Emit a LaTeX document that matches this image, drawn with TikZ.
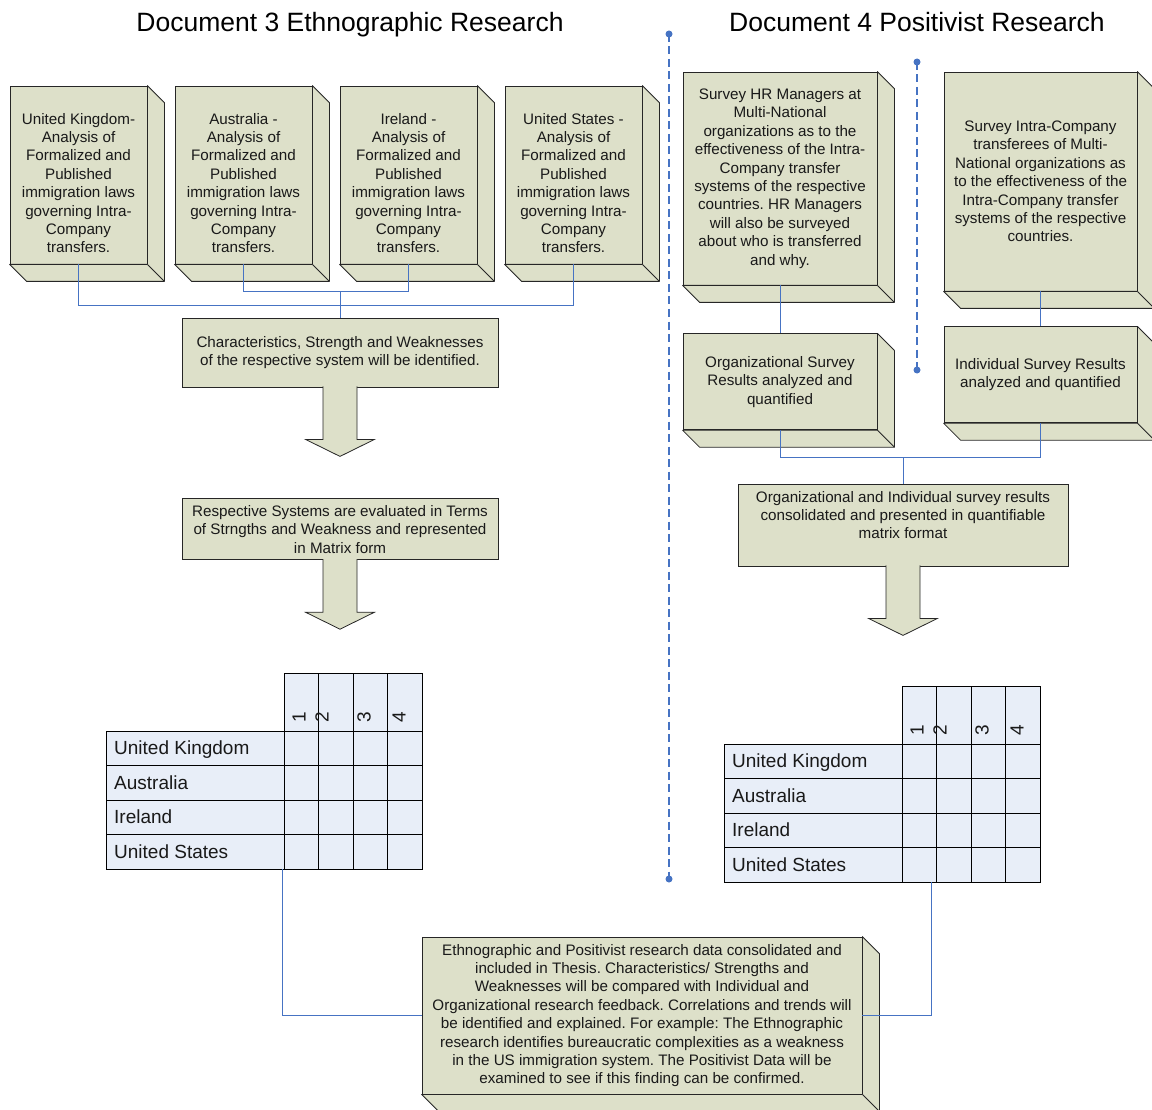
\documentclass[tikz,border=0pt]{standalone}
\usepackage{fontspec}
\setmainfont{Liberation Sans}
\usetikzlibrary{positioning, calc}
\frenchspacing

\definecolor{boxfill}{RGB}{221,224,201}
\definecolor{cellfill}{RGB}{232,238,248}
\definecolor{connblue}{RGB}{70,115,195}
\definecolor{inkgray}{RGB}{25,25,25}

\tikzset{
  face/.style={draw=black!85, fill=boxfill, line width=0.8pt, align=center, text=inkgray, font=\fontsize{15.2}{18.4}\selectfont, inner sep=0pt},
  boxtext/.style={align=center, text=inkgray, font=\fontsize{15.2}{18.4}\selectfont, inner sep=0pt},
  side/.style={draw=black!85, fill=boxfill, line width=0.8pt, line join=round},
  conn/.style={draw=connblue, line width=0.8pt},
  divider/.style={draw=connblue, line width=1.3pt, dash pattern=on 8pt off 4.5pt},
  blockarrow/.style={draw=black!85, fill=boxfill, line width=0.8pt, line join=miter},
  cell/.style={draw=black, fill=cellfill, line width=0.8pt},
  heading/.style={font=\fontsize{26.5}{31}\selectfont, text=black, anchor=base},
  country/.style={font=\fontsize{19}{22}\selectfont, text=inkgray, inner sep=0pt},
}

\begin{document}
\begin{tikzpicture}[x=1pt, y=-1pt]
  \useasboundingbox (0,0) rectangle (1152,1110);

  % headings
  \node[heading] (doc3) at (350,32) {Document 3 Ethnographic Research};
  \node[heading] (doc4) at (917,32) {Document 4 Positivist Research};

  % Document 3: one box per country
  \foreach \n/\c [count=\i from 0] in {uk/United Kingdom-, au/Australia -, ie/Ireland -, us/United States -} {
    \node[face, minimum width=137, minimum height=178] (\n) at (78.5+165*\i,175) {};
    \node[boxtext] at (78.5+165*\i,183) {\c\\Analysis of\\Formalized and\\Published\\immigration laws\\governing Intra-\\Company\\transfers.};
  }
  \node[face, minimum width=316, minimum height=69] (char) at (340,352.5) {Characteristics, Strength and Weaknesses\\of the respective system will be identified.};
  \node[face, minimum width=316, minimum height=61, below=111pt of char] (resp) {Respective Systems are evaluated in Terms\\of Strngths and Weakness and represented\\in Matrix form};

  % Document 4
  \node[face, minimum width=194, minimum height=213] (hr) at (780,178.5) {Survey HR Managers at\\Multi-National\\organizations as to the\\effectiveness of the Intra-\\Company transfer\\systems of the respective\\countries. HR Managers\\will also be surveyed\\about who is transferred\\and why.};
  \node[face, minimum width=194, minimum height=96, below=48pt of hr] (org) {Organizational Survey\\Results analyzed and\\quantified};
  \node[face, minimum width=193, minimum height=219] (intra) at (1040.5,181.5) {Survey Intra-Company\\transferees of  Multi-\\National organizations as\\to the effectiveness of the\\Intra-Company transfer\\systems of the respective\\countries.};
  \node[face, minimum width=193, minimum height=96, below=35pt of intra] (indiv) {Individual  Survey Results\\analyzed and quantified};
  \node[face, minimum width=330, minimum height=82] (cons) at (903,525) {};
  \node[boxtext] at ($(cons)+(0,-10)$) {Organizational and Individual survey results\\consolidated and presented in quantifiable\\matrix format};

  % thesis box
  \node[face, minimum width=440, minimum height=157] (final) at (642,1015.5) {Ethnographic and Positivist research data consolidated and\\included in Thesis. Characteristics/ Strengths and\\Weaknesses will be compared with Individual and\\Organizational research feedback. Correlations and trends will\\be identified and explained. For example: The Ethnographic\\research identifies bureaucratic complexities as a weakness\\in the US immigration system. The Positivist Data will be\\examined to see if this finding can be  confirmed.};

  % 3D sides
  \foreach \n in {uk,au,ie,us,hr,org,intra,indiv,final} {
    \filldraw[side] (\n.north east) -- ++(17,17) -- ($(\n.south east)+(17,17)$) -- ($(\n.south west)+(17,17)$) -- (\n.south west) -- (\n.south east) -- cycle;
    \draw[side] (\n.south east) -- ++(17,17);
  }

  % block arrows
  \foreach \n in {char,resp,cons}
    \draw[blockarrow] ($(\n.south)+(-17,-1)$) -- ++(0,53) -- ++(-17.5,0) -- ++(34.5,17) -- ++(34.5,-17) -- ++(-17.5,0) -- ++(0,-53);

  % matrices
  \foreach \mx/\my/\m/\cx in {106/673/lm/176, 724/686/rm/207} {
    \begin{scope}[shift={(\mx,\my)}]
      \foreach \i in {0,...,3}
        \draw[cell] (178+34.5*\i,0) rectangle ++(34.5,58);
      \foreach \d/\dx in {1/15, 2/38, 3/80, 4/115}
        \node[country, rotate=90, anchor=west] at (178+\dx,50) {\d};
      \foreach \c [count=\r from 0] in {United Kingdom, Australia, Ireland, United States} {
        \draw[cell] (0,58+34.5*\r) rectangle ++(178,34.5);
        \node[country, anchor=base west] at (8,58+34.5*\r+23.5) {\c};
        \foreach \i in {0,...,3}
          \draw[cell] (178+34.5*\i,58+34.5*\r) rectangle ++(34.5,34.5);
      }
      \coordinate (\m-bottom) at (\cx,196);
    \end{scope}
  }

  % connectors
  \draw[conn] (uk.south) -- ++(0,41) -| (us.south);
  \draw[conn] (au.south) -- ++(0,27) coordinate (jau) -| (ie.south);
  \draw[conn] (char.north) -- (char.north |- jau);
  \draw[conn] (hr.south) -- (org.north);
  \draw[conn] (intra.south) -- (indiv.north);
  \draw[conn] (org.south) -- ++(0,27) coordinate (jorg) -| (indiv.south);
  \draw[conn] (cons.north) -- (cons.north |- jorg);
  \draw[conn] (lm-bottom) |- (final.west);
  \draw[conn] (rm-bottom) |- (final.east);

  % dividers
  \coordinate (div1top) at (669,34);
  \coordinate (div1bot) at (669,879);
  \coordinate (div2top) at (917,62);
  \coordinate (div2bot) at (917,370);
  \draw[divider] (div1top) -- (div1bot);
  \draw[divider] (div2top) -- (div2bot);
  \fill[connblue] (div1top) circle (3.5pt) (div1bot) circle (3.5pt) (div2top) circle (3.5pt) (div2bot) circle (3.5pt);
\end{tikzpicture}
\end{document}
